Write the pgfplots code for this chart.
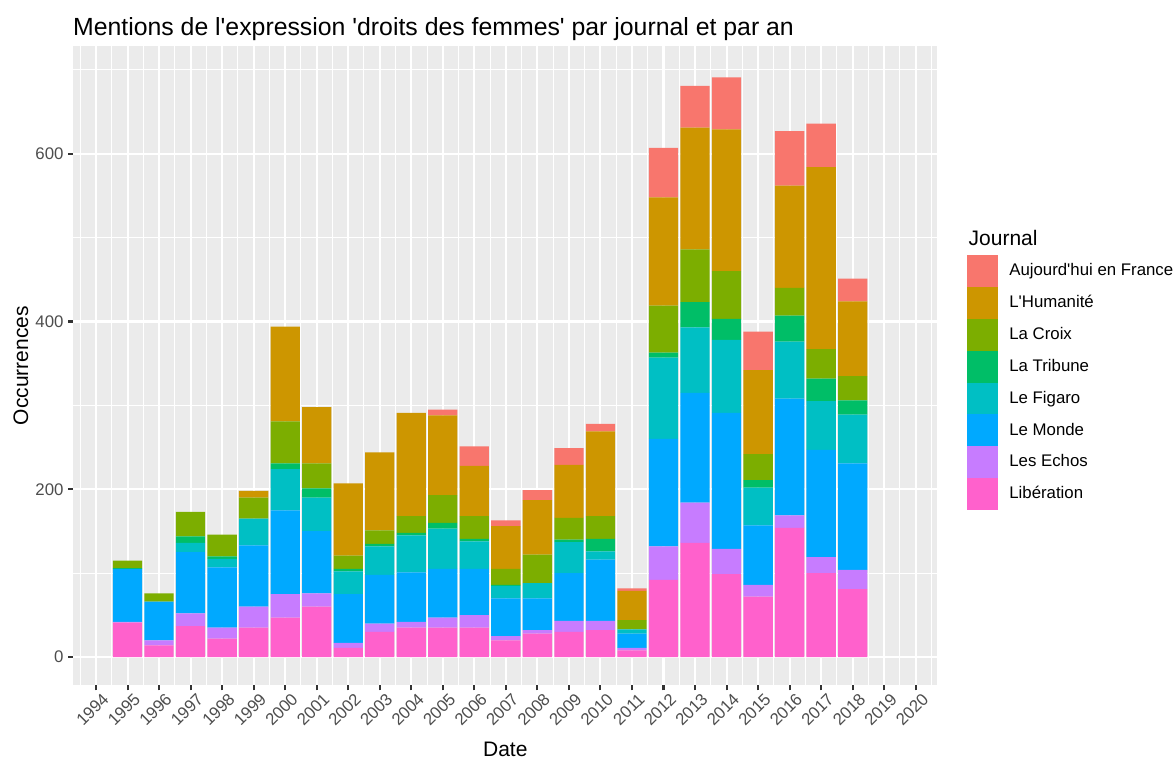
\documentclass[border=0pt]{standalone}
\usepackage{fontspec}
\setmainfont{Liberation Sans}[Ligatures=TeXOff]
\usepackage{pgfplots}
\usepackage{pgfplotstable}
\pgfplotsset{compat=1.18}
\definecolor{cAuj}{HTML}{F8766D}
\definecolor{cHum}{HTML}{CD9600}
\definecolor{cCroix}{HTML}{7CAE00}
\definecolor{cTrib}{HTML}{00BE67}
\definecolor{cFig}{HTML}{00BFC4}
\definecolor{cMonde}{HTML}{00A9FF}
\definecolor{cEchos}{HTML}{C77CFF}
\definecolor{cLib}{HTML}{FF61CC}
\definecolor{panelbg}{HTML}{EBEBEB}
\definecolor{tickgray}{HTML}{333333}
\definecolor{labgray}{HTML}{4D4D4D}

\pgfplotstableread{
year lib echos monde figaro tribune croix huma auj
1995 41 1 63 0 1 9 0 0
1996 14 6 46 0 0 10 0 0
1997 37 15 73 11 8 29 0 0
1998 22 13 72 10 3 26 0 0
1999 35 25 73 32 0 25 8 0
2000 47 28 100 49 7 50 113 0
2001 60 16 74 40 11 30 67 0
2002 11 6 58 27 3 16 86 0
2003 30 10 58 34 3 16 93 0
2004 35 7 59 44 3 20 123 0
2005 35 12 58 48 7 33 95 7
2006 35 15 55 33 3 27 60 23
2007 20 5 45 15 1 19 51 7
2008 28 4 38 18 0 34 65 12
2009 30 13 57 37 3 26 63 20
2010 32 11 73 10 15 27 101 9
2011 8 3 17 5 0 11 35 3
2012 92 40 128 97 6 56 129 59
2013 136 48 131 78 30 63 145 50
2014 99 30 162 87 25 57 169 62
2015 72 14 71 45 9 31 100 46
2016 154 15 139 68 31 33 122 65
2017 100 19 128 58 27 35 217 52
2018 81 23 127 58 17 29 89 27
}\data

\pgfplotsset{
  sqleg/.style={legend image code/.code={%
    \path (0pt,-8.35pt) rectangle (16.2pt,8.35pt);
    \fill[##1,draw=none] (0pt,-7.95pt) rectangle (16.2pt,7.95pt);}},
}

\begin{document}
\begin{tikzpicture}
\useasboundingbox (-38.38pt,-38.2pt) rectangle (577.37pt,358.7pt);
\begin{axis}[
  at={(0pt,0pt)}, anchor=south west,
  scale only axis, width=452.4pt, height=334.6pt,
  xmin=1993.28, xmax=2020.685, ymin=-33.4, ymax=728.4,
  ybar stacked, bar width=0.93,
  axis background/.style={fill=panelbg},
  axis line style={draw=none},
  grid=both,
  major grid style={white, line width=1.07pt},
  minor grid style={white, line width=0.53pt},
  xtick={1994,1995,...,2020},
  xticklabels={1994,1995,1996,1997,1998,1999,2000,2001,2002,2003,2004,2005,2006,2007,2008,2009,2010,2011,2012,2013,2014,2015,2016,2017,2018,2019,2020},
  minor xtick={1993.5,1994.5,...,2020.5},
  ytick={0,200,400,600},
  yticklabels={0,200,400,600},
  minor ytick={100,300,500,700},
  tick pos=left,
  tick align=outside,
  major tick length=2.75pt,
  minor tick length=0pt,
  tick style={tickgray, line width=1.07pt},
  xticklabel style={rotate=45, anchor=north east, font=\fontsize{8.8}{10}\selectfont, text=labgray, inner sep=1pt, xshift=2.5pt, yshift=-1.5pt},
  yticklabel style={anchor=east, font=\fontsize{8.8}{10}\selectfont, text=labgray, inner sep=2.2pt},
  reverse legend,
  legend cell align=left,
  legend style={at={(1,1)}, anchor=north west, xshift=15.7pt, yshift=-109.4pt,
    draw=none, fill=none, inner sep=0pt, outer sep=0pt, row sep=0pt,
    font=\fontsize{8.8}{10.5}\selectfont,
    nodes={inner sep=0pt, outer sep=0pt},
    /tikz/every odd column/.append style={column sep=5.8pt}},
]
\addplot[fill=cLib, draw=none, sqleg] table[x=year,y=lib]{\data};
\addlegendentry{Libération}
\addplot[fill=cEchos, draw=none, sqleg] table[x=year,y=echos]{\data};
\addlegendentry{Les Echos}
\addplot[fill=cMonde, draw=none, sqleg] table[x=year,y=monde]{\data};
\addlegendentry{Le Monde}
\addplot[fill=cFig, draw=none, sqleg] table[x=year,y=figaro]{\data};
\addlegendentry{Le Figaro}
\addplot[fill=cTrib, draw=none, sqleg] table[x=year,y=tribune]{\data};
\addlegendentry{La Tribune}
\addplot[fill=cCroix, draw=none, sqleg] table[x=year,y=croix]{\data};
\addlegendentry{La Croix}
\addplot[fill=cHum, draw=none, sqleg] table[x=year,y=huma]{\data};
\addlegendentry{L'Humanité}
\addplot[fill=cAuj, draw=none, sqleg] table[x=year,y=auj]{\data};
\addlegendentry{Aujourd'hui en France}
\end{axis}
\node[anchor=base west, inner sep=0pt, font=\fontsize{13}{15}\selectfont] at (-0.3pt,340.36pt) {Mentions de l'expression 'droits des femmes' par journal et par an};
\node[anchor=base, inner sep=0pt, font=\fontsize{11}{13}\selectfont] at (226.2pt,-37.2pt) {Date};
\node[rotate=90, anchor=base, inner sep=0pt, font=\fontsize{11}{13}\selectfont] at (-23.6pt,167.3pt) {Occurrences};
\node[anchor=base west, inner sep=0pt, font=\fontsize{11}{13}\selectfont] at (468.6pt,230.4pt) {Journal};
\end{tikzpicture}
\end{document}
